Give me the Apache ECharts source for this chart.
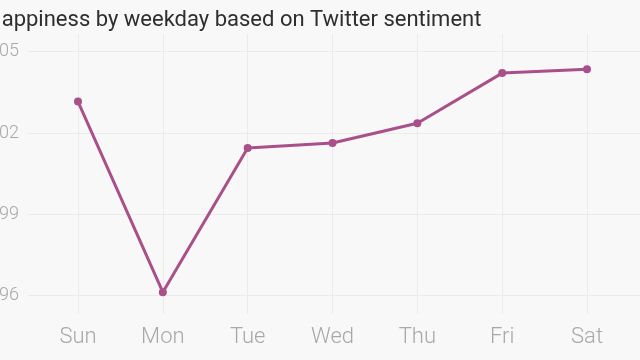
<!DOCTYPE html>
<html>
<head>
<meta charset="utf-8">
<script src="https://cdn.jsdelivr.net/npm/echarts@6/dist/echarts.min.js"></script>
<style>
  html, body { margin: 0; padding: 0; background: #f8f8f8; }
  #chart { width: 640px; height: 360px; }
</style>
</head>
<body>
<div id="chart"></div>
<script>
const titleText = 'Happiness by weekday based on Twitter sentiment';
const days = ['Sun', 'Mon', 'Tue', 'Wed', 'Thu', 'Fri', 'Sat'];
const happiness = [6.0316, 5.9613, 6.0145, 6.0163, 6.0236, 6.0421, 6.0435];
const yTickMin = 5.96;
const yTickMax = 6.05;
const yTickStep = 0.03;

const chart = echarts.init(document.getElementById('chart'), null, { renderer: 'canvas' });
const gridColor = '#ebebeb';
chart.setOption({
  backgroundColor: '#f8f8f8',
  animation: false,
  title: {
    text: titleText,
    left: -19,
    top: 4,
    textStyle: { fontFamily: 'Roboto', fontWeight: 400, fontSize: 22, color: '#2e2e2e' }
  },
  grid: [
    { left: 28, right: -20, top: 51.7, bottom: 64.3, outerBoundsMode: 'none', containLabel: false },
    { left: 78, right: 53, top: 34, bottom: 46, outerBoundsMode: 'none', containLabel: false }
  ],
  xAxis: [
    { type: 'value', gridIndex: 0, show: false },
    {
      type: 'category', gridIndex: 1, data: days, boundaryGap: false,
      axisLine: { show: false }, axisTick: { show: false },
      splitLine: { show: true, lineStyle: { color: gridColor, width: 1 } },
      axisLabel: { fontFamily: 'Roboto', fontWeight: 300, fontSize: 22, color: '#a8a8a8', margin: 12 }
    }
  ],
  yAxis: [
    {
      type: 'value', gridIndex: 0, min: yTickMin, max: yTickMax, interval: yTickStep,
      axisLine: { show: false }, axisTick: { show: false },
      splitLine: { show: true, lineStyle: { color: gridColor, width: 1 } },
      axisLabel: {
        fontFamily: 'Roboto', fontWeight: 300, fontSize: 18, color: '#a8a8a8', margin: 9,
        formatter: v => v.toFixed(2)
      }
    },
    {
      type: 'value', gridIndex: 1, min: 5.95325, max: 6.05653, show: false,
      splitLine: { show: false }
    }
  ],
  series: [{
    type: 'line',
    xAxisIndex: 1, yAxisIndex: 1,
    data: happiness,
    symbol: 'circle', symbolSize: 8,
    lineStyle: { color: '#a9508a', width: 3 },
    itemStyle: { color: '#a9508a' }
  }]
});
</script>
</body>
</html>
